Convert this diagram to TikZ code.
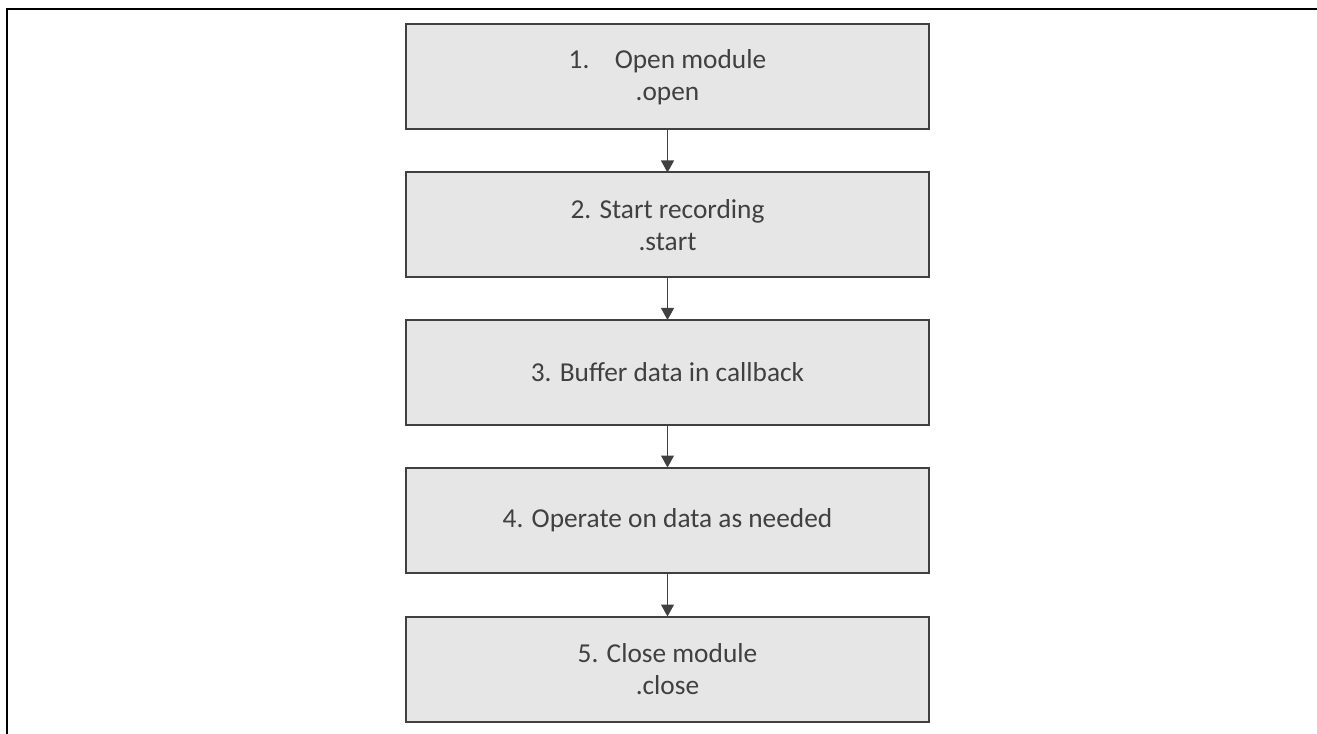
\documentclass[tikz,border=0pt]{standalone}
\usepackage{fontspec}
\setmainfont{Carlito}
\usetikzlibrary{arrows.meta}
\definecolor{boxfill}{HTML}{E6E6E6}
\definecolor{boxline}{HTML}{404040}
\begin{document}
\begin{tikzpicture}[x=0.75pt,y=-0.75pt,
  stepbox/.style={draw=boxline, line width=1.5pt, fill=boxfill, text=boxline,
    minimum width=392.25pt, minimum height=78.75pt, inner sep=0pt, outer sep=0pt,
    align=center, font=\fontsize{20.5}{24}\selectfont},
  flow/.style={draw=boxline, line width=0.8pt, -{Triangle[width=9.75pt,length=9pt]}},
  frame/.style={draw=black, line width=1.5pt}]
\useasboundingbox (0,0) rectangle (1317,734);
\draw[frame] (7,734) -- (7,9) -- (1317,9);
\node[stepbox] (b1) at (667.5,76.75) {1.\hspace{19pt}Open module\\.open};
\node[stepbox] (b2) at (667.5,225) {2. Start recording\\.start};
\node[stepbox] (b3) at (667.5,372.5) {3. Buffer data in callback};
\node[stepbox] (b4) at (667.5,520) {4. Operate on data as needed};
\node[stepbox] (b5) at (667.5,669) {5. Close module\\.close};
\draw[flow] (b1) -- (b2);
\draw[flow] (b2) -- (b3);
\draw[flow] (b3) -- (b4);
\draw[flow] (b4) -- (b5);
\end{tikzpicture}
\end{document}
